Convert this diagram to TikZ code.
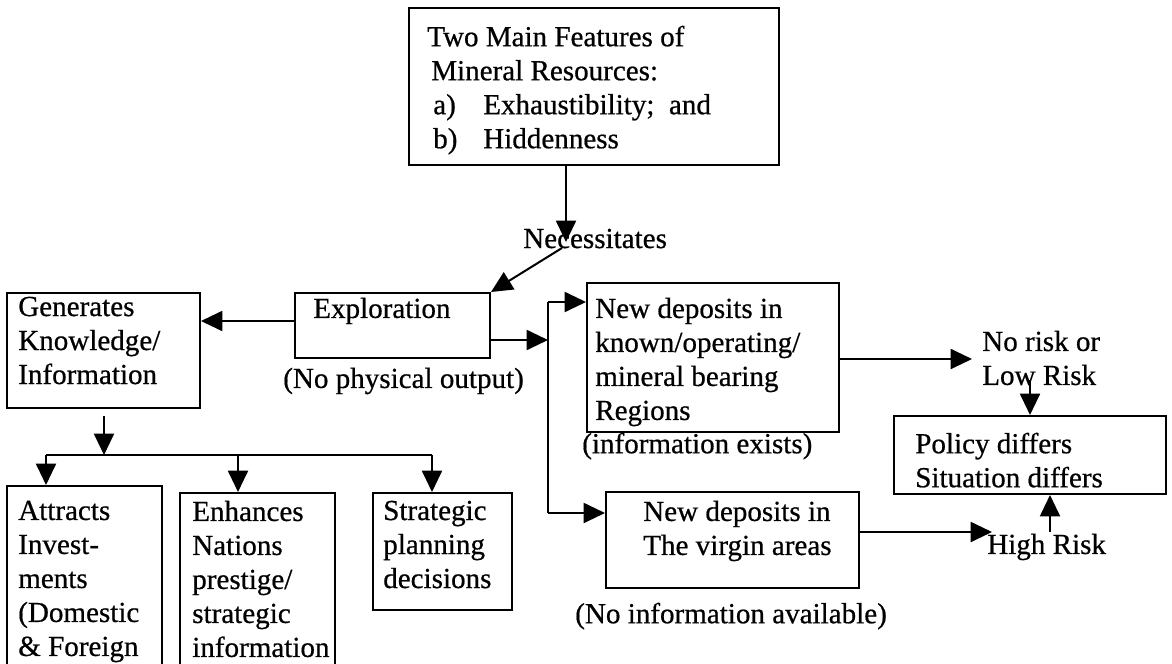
\documentclass[tikz,border=0pt]{standalone}
\usepackage{fontspec}
\setmainfont{Liberation Serif}[FakeBold=0.6]
\usetikzlibrary{arrows.meta,fit}
\tikzset{
  box/.style={draw, line width=1.5pt, inner sep=0pt, fit={#1}},
  txt/.style={anchor=north west, inner sep=0pt, align=left,
              font=\fontsize{21.8pt}{25.5pt}\selectfont},
  conn/.style={line width=1.5pt},
  arr/.style={line width=1.5pt, -{Triangle[length=16pt,width=15pt]}}
}
\begin{document}
\begin{tikzpicture}[x=0.75pt,y=-0.75pt]
\useasboundingbox (0,0) rectangle (1172,664);
\clip (0,0) rectangle (1172,664);
% boxes
\node[box={(409,8) (779,165)}] (top) {};
\node[box={(7,293) (200,408)}] (gen) {};
\node[box={(295,293) (490,358)}] (expl) {};
\node[box={(587,283) (839,432)}] (dep1) {};
\node[box={(606,492) (859,588)}] (dep2) {};
\node[box={(894,416) (1166,494)}] (policy) {};
\node[box={(7,486) (162,700)}] (attr) {};
\node[box={(180,493) (335,700)}] (enh) {};
\node[box={(373,493) (512,610)}] (strat) {};
% texts
\node[txt] (toptext) at (427,25.5) {Two Main Features of\\\hspace*{3pt}Mineral Resources:\\\hspace*{4.5pt}\makebox[37.5pt][l]{a)}Exhaustibility;\ \ and\\\hspace*{4.5pt}\makebox[37.5pt][l]{b)}Hiddenness};
\node[txt] (gentext) at (18,296.5) {Generates\\Knowledge/\\Information};
\node[txt] (expltext) at (313,297.5) {Exploration};
\node[txt] (nophys) at (283,367.5) {(No physical output)};
\node[txt] (dep1text) at (595,297.5) {New deposits in\\known/operating/\\mineral bearing\\Regions};
\node[txt] (infoex) at (582,432.5) {(information exists)};
\node[txt] (dep2text) at (643,500.5) {New deposits in\\The virgin areas};
\node[txt] (noinfo) at (575,602.5) {(No information available)};
\node[txt] (norisk) at (982,330.5) {No risk or\\Low Risk};
\node[txt] (policytext) at (915,432.5) {Policy differs\\Situation differs};
\node[txt] (high) at (987,533.5) {High Risk};
\node[txt] (nec) at (523,228.5) {Necessitates};
\node[txt] (attrtext) at (18,500.5) {Attracts\\Invest-\\ments\\(Domestic\\\& Foreign};
\node[txt] (enhtext) at (192,500.5) {Enhances\\Nations\\prestige/\\strategic\\information};
\node[txt] (strattext) at (383,500.5) {Strategic\\planning\\decisions};
% connector points
\coordinate (necIn) at (566,242);
\coordinate (necOut) at (562,248);
\coordinate (sTop) at (548,302);
\coordinate (sBot) at (548,513);
\coordinate (sMid) at (548,340);
\coordinate (gOut) at (104,416);
\coordinate (gBar) at (104,455);
\coordinate (barL) at (46,455);
\coordinate (barM) at (238,455);
\coordinate (barR) at (432,455);
\coordinate (nrIn) at (972,359);
\coordinate (lrOut) at (1030,380);
\coordinate (hrIn) at (992,532);
\coordinate (hrOut) at (1050,532);
% connectors
\draw[arr] (top.south -| necIn) -- (necIn);
\draw[arr] (necOut) -- (expl.north east);
\draw[arr] (expl.west |- 0,321) -- (gen.east |- 0,321);
\draw[arr] (expl.east |- sMid) -- (sMid);
\draw[conn] (sTop) -- (sBot);
\draw[arr] (sTop) -- (dep1.west |- sTop);
\draw[arr] (sBot) -- (dep2.west |- sBot);
\draw[arr] (gOut) -- (gBar);
\draw[conn] (barL) -- (barR);
\draw[arr] (barL) -- (attr.north -| barL);
\draw[arr] (barM) -- (enh.north -| barM);
\draw[arr] (barR) -- (strat.north -| barR);
\draw[arr] (dep1.east |- nrIn) -- (nrIn);
\draw[arr] (lrOut) -- (policy.north -| lrOut);
\draw[arr] (dep2.east |- hrIn) -- (hrIn);
\draw[arr] (hrOut) -- (policy.south -| hrOut);
\end{tikzpicture}
\end{document}
